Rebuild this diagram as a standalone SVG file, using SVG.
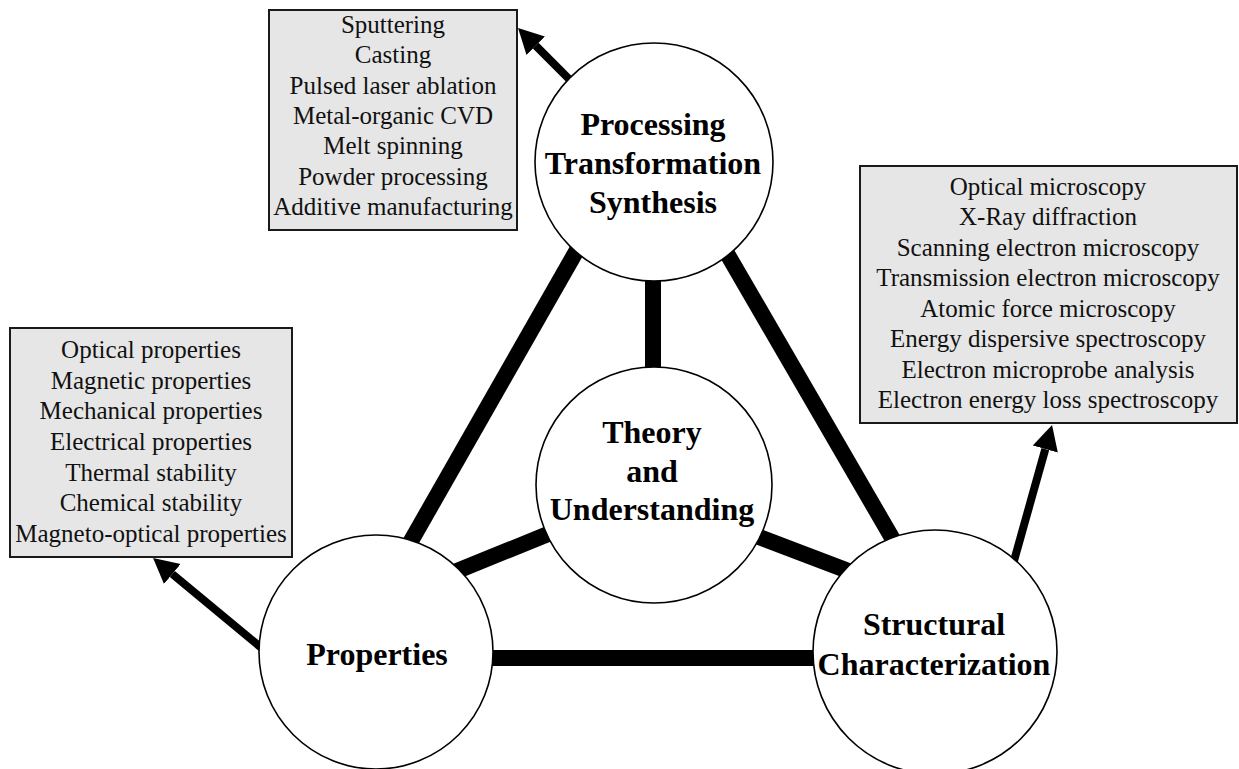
<svg xmlns="http://www.w3.org/2000/svg" width="1239" height="769" viewBox="0 0 1239 769">
  <defs>
    <marker id="head" markerUnits="userSpaceOnUse" markerWidth="26" markerHeight="28" refX="0" refY="14" orient="auto" viewBox="0 0 26 28">
      <path d="M0,1 L25,14 L0,27 z" fill="#000"/>
    </marker>
    <style>
      .bar { stroke:#000; stroke-width:16; fill:none; }
      .arrow { stroke:#000; stroke-width:8; fill:none; marker-end:url(#head); }
      .node { fill:#fff; stroke:#000; stroke-width:1.6; }
      .box { fill:#e6e6e6; stroke:#1a1a1a; stroke-width:2; }
      .lbl { font-family:"Liberation Serif","Times New Roman",serif; font-weight:bold; font-size:32px; fill:#000; text-anchor:middle; }
      .item { font-family:"Liberation Serif","Times New Roman",serif; font-size:25px; fill:#111; text-anchor:middle; }
    </style>
  </defs>
  <rect width="1239" height="769" fill="#fff"/>

  <g id="connectors">
    <line class="bar" x1="585" y1="236" x2="403" y2="555"/>
    <line class="bar" x1="718" y1="238" x2="902" y2="555"/>
    <line class="bar" x1="653" y1="270" x2="653" y2="380"/>
    <line class="bar" x1="580" y1="521" x2="430" y2="582"/>
    <line class="bar" x1="730" y1="526" x2="880" y2="583"/>
    <line class="bar" x1="470" y1="658" x2="840" y2="658"/>
    <line class="arrow" x1="580" y1="90" x2="535.7" y2="45.7"/>
    <line class="arrow" x1="270" y1="655" x2="172.3" y2="574"/>
    <line class="arrow" x1="1010" y1="575" x2="1045.3" y2="449.1"/>
  </g>

  <g id="node-processing">
    <circle class="node" cx="654" cy="162" r="119"/>
    <text class="lbl" x="653" y="135">Processing</text>
    <text class="lbl" x="653" y="174">Transformation</text>
    <text class="lbl" x="653" y="213">Synthesis</text>
  </g>

  <g id="node-theory">
    <circle class="node" cx="654" cy="485" r="118"/>
    <text class="lbl" x="652" y="443">Theory</text>
    <text class="lbl" x="652" y="482">and</text>
    <text class="lbl" x="652" y="520">Understanding</text>
  </g>

  <g id="node-properties">
    <circle class="node" cx="376" cy="652" r="117"/>
    <text class="lbl" x="377" y="665">Properties</text>
  </g>

  <g id="node-structural">
    <circle class="node" cx="935" cy="652" r="122"/>
    <text class="lbl" x="934" y="635">Structural</text>
    <text class="lbl" x="934" y="675">Characterization</text>
  </g>

  <g id="box-processing">
    <rect class="box" x="269" y="10" width="248" height="220"/>
    <text class="item" x="393" y="33">Sputtering</text>
    <text class="item" x="393" y="63.3">Casting</text>
    <text class="item" x="393" y="93.6">Pulsed laser ablation</text>
    <text class="item" x="393" y="123.9">Metal-organic CVD</text>
    <text class="item" x="393" y="154.2">Melt spinning</text>
    <text class="item" x="393" y="184.5">Powder processing</text>
    <text class="item" x="393" y="214.8">Additive manufacturing</text>
  </g>

  <g id="box-properties">
    <rect class="box" x="10" y="328" width="282" height="229"/>
    <text class="item" x="151" y="358">Optical properties</text>
    <text class="item" x="151" y="388.7">Magnetic properties</text>
    <text class="item" x="151" y="419.3">Mechanical properties</text>
    <text class="item" x="151" y="450">Electrical properties</text>
    <text class="item" x="151" y="480.7">Thermal stability</text>
    <text class="item" x="151" y="511.3">Chemical stability</text>
    <text class="item" x="151" y="542">Magneto-optical properties</text>
  </g>

  <g id="box-characterization">
    <rect class="box" x="860" y="166" width="377" height="257"/>
    <text class="item" x="1048" y="195">Optical microscopy</text>
    <text class="item" x="1048" y="225.4">X-Ray diffraction</text>
    <text class="item" x="1048" y="255.9">Scanning electron microscopy</text>
    <text class="item" x="1048" y="286.3">Transmission electron microscopy</text>
    <text class="item" x="1048" y="316.7">Atomic force microscopy</text>
    <text class="item" x="1048" y="347.1">Energy dispersive spectroscopy</text>
    <text class="item" x="1048" y="377.6">Electron microprobe analysis</text>
    <text class="item" x="1048" y="408">Electron energy loss spectroscopy</text>
  </g>
</svg>
